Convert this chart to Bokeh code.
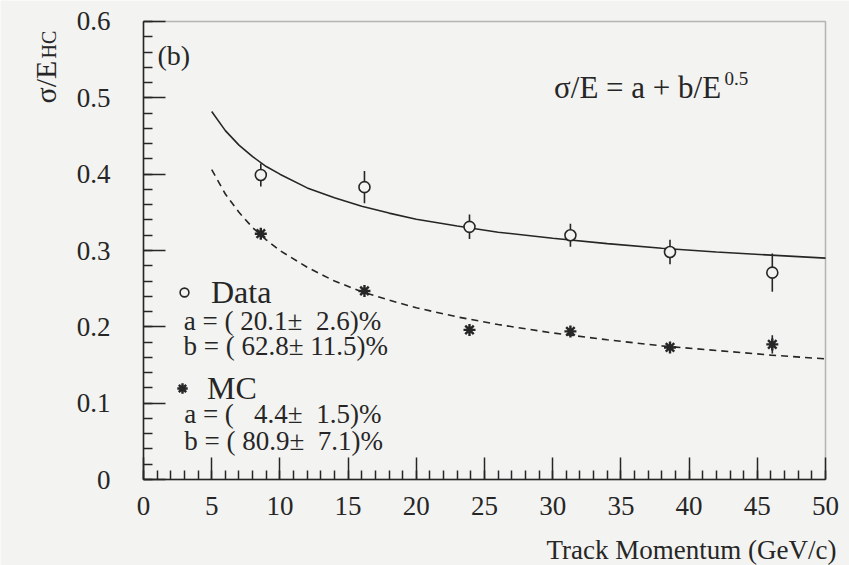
import math
from bokeh.plotting import figure
from bokeh.models import (Label, Range1d, FixedTicker, Legend, LegendItem,
                          ColumnDataSource, BoxAnnotation)
from bokeh.embed import file_html
from bokeh.resources import INLINE

# ---------------- data ----------------
momentum = [8.6, 16.2, 23.9, 31.3, 38.6, 46.1]
data_res = [0.399, 0.383, 0.331, 0.320, 0.298, 0.271]
data_err = [0.015, 0.021, 0.016, 0.015, 0.016, 0.025]
mc_res = [0.322, 0.247, 0.196, 0.194, 0.173, 0.177]
mc_err = [0.006, 0.005, 0.005, 0.005, 0.004, 0.012]

# fitted curves
fit_x = [5, 6, 7, 8, 9, 10, 12, 14, 16, 18, 20, 23, 26, 30, 34, 38, 42, 46, 50]
data_fit = [0.482, 0.457, 0.438, 0.423, 0.410, 0.400, 0.382, 0.369, 0.358, 0.349,
            0.341, 0.332, 0.324, 0.316, 0.309, 0.303, 0.298, 0.294, 0.290]
mc_fit = [0.406, 0.374, 0.350, 0.330, 0.314, 0.300, 0.278, 0.260, 0.246, 0.235,
          0.225, 0.213, 0.203, 0.192, 0.183, 0.175, 0.169, 0.163, 0.158]

x_ticks = [0, 5, 10, 15, 20, 25, 30, 35, 40, 45, 50]
y_ticks = [0, 0.1, 0.2, 0.3, 0.4, 0.5, 0.6]
y_tick_labels = ["0", "0.1", "0.2", "0.3", "0.4", "0.5", "0.6"]

data_fit_text = ["a = (\u00a020.1\u00b1\u00a0\u00a02.6)%", "b = (\u00a062.8\u00b1\u00a011.5)%"]
mc_fit_text = ["a = (\u00a0\u00a0\u00a04.4\u00b1\u00a0\u00a01.5)%", "b = (\u00a080.9\u00b1\u00a0\u00a07.1)%"]

# ---------------- styling ----------------
INK = "#262626"
BG = "#f3f3f1"
FONT = "Liberation Serif"

# The frame fills the whole canvas; the axes sit at fixed data locations inside it,
# so that all annotation texts (axis titles, legend fit values) are drawn unclipped.
p = figure(width=849, height=565, x_range=Range1d(-10.484, 51.76),
           y_range=Range1d(-0.11266, 0.62751),
           output_backend="svg", toolbar_location=None,
           min_border_left=0, min_border_right=0, min_border_top=0, min_border_bottom=0)
p.background_fill_color = BG
p.border_fill_color = BG
p.outline_line_color = None
p.xgrid.visible = False
p.ygrid.visible = False

p.add_layout(BoxAnnotation(left=0, right=50, bottom=0, top=0.6, fill_color=None,
                           line_color=INK, line_width=1.5, level="underlay"))

p.xaxis.ticker = FixedTicker(ticks=x_ticks, minor_ticks=[i for i in range(0, 51)])
p.yaxis.ticker = FixedTicker(ticks=y_ticks, minor_ticks=[i / 50 for i in range(0, 31)])
p.yaxis.major_label_overrides = {t: l for t, l in zip(y_ticks, y_tick_labels)}
p.xaxis.fixed_location = 0
p.yaxis.fixed_location = 0
p.xaxis.bounds = (0, 50)
p.yaxis.bounds = (0, 0.6)

for ax in (p.xaxis[0], p.yaxis[0]):
    ax.axis_line_color = INK
    ax.axis_line_width = 1.5
    ax.major_tick_line_color = INK
    ax.minor_tick_line_color = INK
    ax.major_tick_line_width = 1.5
    ax.minor_tick_line_width = 1.5
    ax.major_tick_out = 0
    ax.minor_tick_out = 0
    ax.major_tick_in = 22
    ax.minor_tick_in = 9
    ax.major_label_text_font = FONT
    ax.major_label_text_font_size = "27px"
    ax.major_label_text_color = INK
p.xaxis.major_label_standoff = 17
p.yaxis.major_label_standoff = 33

# fit curves
p.line(fit_x, data_fit, line_color=INK, line_width=1.6)
p.line(fit_x, mc_fit, line_color=INK, line_width=1.6, line_dash="7 5")

# error bars
src_d = ColumnDataSource(dict(x=momentum, y=data_res,
                              lo=[v - e for v, e in zip(data_res, data_err)],
                              hi=[v + e for v, e in zip(data_res, data_err)]))
src_m = ColumnDataSource(dict(x=momentum, y=mc_res,
                              lo=[v - e for v, e in zip(mc_res, mc_err)],
                              hi=[v + e for v, e in zip(mc_res, mc_err)]))
p.segment(x0="x", y0="lo", x1="x", y1="hi", source=src_d, line_color=INK, line_width=1.6)
p.segment(x0="x", y0="lo", x1="x", y1="hi", source=src_m, line_color=INK, line_width=1.6)

r_data = p.scatter(x="x", y="y", source=src_d, marker="circle", size=11,
                   line_color=INK, line_width=1.6, fill_color=BG)
r_mc = p.scatter(x="x", y="y", source=src_m, marker="asterisk", size=12,
                 line_color=INK, line_width=2.4)

# legends (one per entry, placed independently; location in px from frame bottom-left)
for rend, name, loc, gw, standoff in ((r_data, "Data", (173, 248), 22, 16),
                                      (r_mc, "MC", (169, 152), 26, 12)):
    lg = Legend(items=[LegendItem(label=name, renderers=[rend])], location=loc,
                padding=0, margin=0, spacing=0, glyph_width=gw, glyph_height=50,
                label_height=50, label_standoff=standoff,
                border_line_color=None, background_fill_alpha=0,
                label_text_font=FONT, label_text_font_size="32px", label_text_color=INK)
    p.add_layout(lg, "center")

def txt(x, y, s, size, align="left", baseline="middle", angle=0.0):
    p.add_layout(Label(x=x, y=y, text=s, text_font=FONT, text_font_size=size,
                       text_color=INK, text_align=align, text_baseline=baseline, angle=angle))

txt(2.96, 0.2072, data_fit_text[0], "27px")
txt(2.93, 0.1745, data_fit_text[1], "27px")
txt(2.98, 0.0853, mc_fit_text[0], "27px")
txt(2.99, 0.0498, mc_fit_text[1], "27px")

txt(1.03, 0.556, "(b)", "28px")
txt(30.1, 0.513, "\u03c3/E = a + b/E", "31px")
txt(42.6, 0.5255, "0.5", "19px")

txt(50.8, -0.0917, "Track Momentum (GeV/c)", "27px", align="right")
txt(-7.16, 0.4926, "\u03c3/E", "30px", baseline="alphabetic", angle=math.pi / 2)
txt(-6.96, 0.5516, "HC", "20px", baseline="alphabetic", angle=math.pi / 2)

open("out.html", "w").write(file_html(p, INLINE))
